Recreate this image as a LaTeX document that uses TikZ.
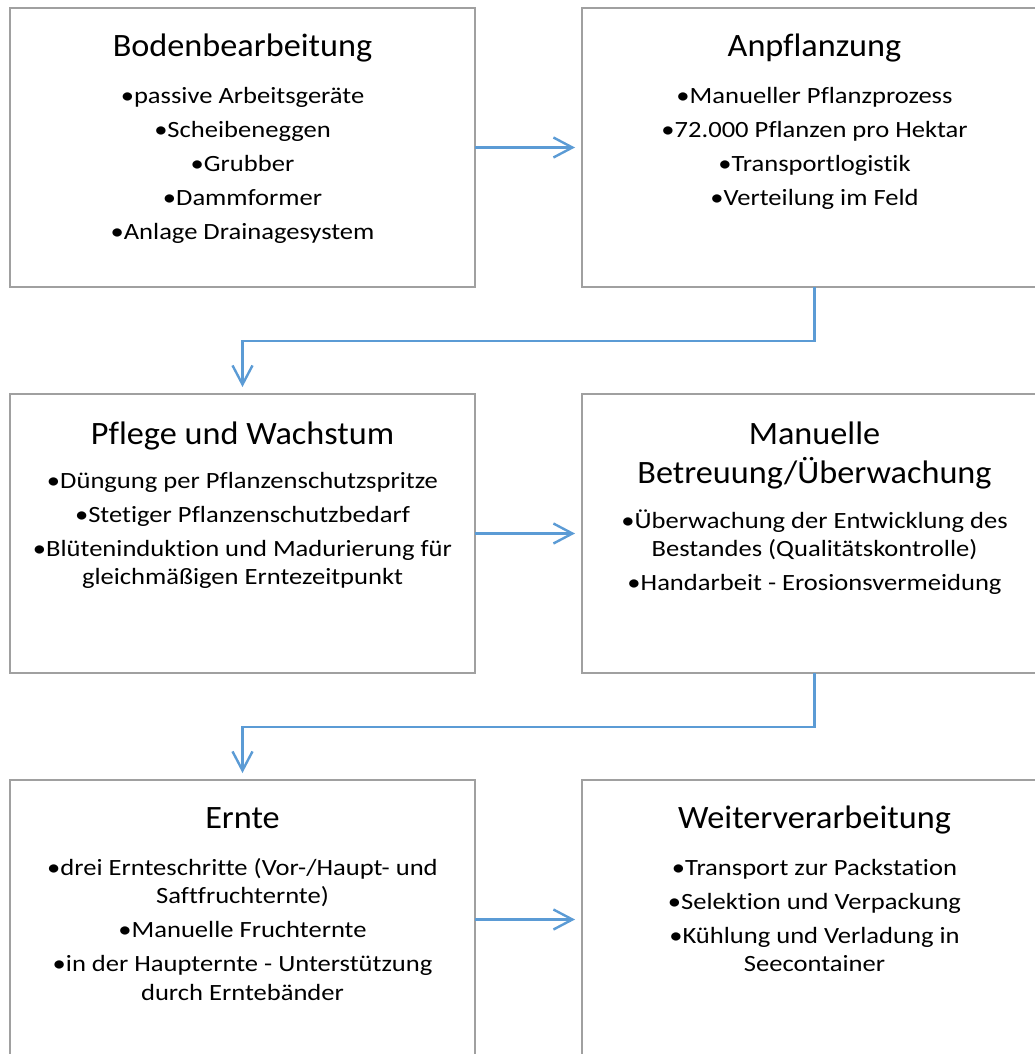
\documentclass[tikz,border=0pt]{standalone}
\usepackage{fontspec}
\setmainfont{Carlito}
\newfontfamily\bodyfnt[FakeStretch=1.14,Ligatures=NoCommon]{Carlito}
\newfontfamily\titlefnt[FakeStretch=1.05,Ligatures=NoCommon]{Carlito}
\usetikzlibrary{arrows.meta}
\definecolor{boxgray}{HTML}{A0A0A0}
\definecolor{arrblue}{HTML}{5B9BD5}
\newcommand\bodytext[1]{\parbox[t]{460pt}{\centering\bodyfnt\fontsize{23.3}{28.5}\selectfont\setlength\parskip{5.7pt}#1}}
\newcommand\titletext[1]{\parbox[t]{460pt}{\centering\titlefnt\fontsize{32.6}{39.8}\selectfont #1}}
\begin{document}
\begin{tikzpicture}[x=1pt,y=-1pt,
  box/.style={draw=boxgray, line width=1.5pt, minimum width=465pt, minimum height=279pt,
    anchor=north west, inner sep=0pt, outer sep=0pt},
  titlelbl/.style={anchor=base, inner sep=0pt, outer sep=0pt},
  bodylbl/.style={anchor=base, inner sep=0pt, outer sep=0pt},
  arr/.style={draw=arrblue, line width=2.4pt, -{Straight Barb[length=19pt,width=20pt]}}
]
\useasboundingbox (0,0) rectangle (1035,1054);
\clip (0,0) rectangle (1035,1054);

% boxes
\node[box] (b1) at (10,8) {};
\node[box] (b2) at (582,8) {};
\node[box] (b3) at (10,394) {};
\node[box] (b4) at (582,394) {};
\node[box] (b5) at (10,780) {};
\node[box] (b6) at (582,780) {};

% titles
\node[titlelbl] (t1) at ([yshift=-49pt]b1.north) {\titletext{Bodenbearbeitung}};
\node[titlelbl] (t2) at ([yshift=-49pt]b2.north) {\titletext{Anpflanzung}};
\node[titlelbl] (t3) at ([yshift=-50pt]b3.north) {\titletext{Pflege und Wachstum}};
\node[titlelbl] (t4) at ([yshift=-50pt]b4.north) {\titletext{Manuelle\\Betreuung/Überwachung}};
\node[titlelbl] (t5) at ([yshift=-48pt]b5.north) {\titletext{Ernte}};
\node[titlelbl] (t6) at ([yshift=-48pt]b6.north) {\titletext{Weiterverarbeitung}};

% bodies
\node[bodylbl] (l1) at ([yshift=-95pt]b1.north) {\bodytext{%
  •passive Arbeitsgeräte\par
  •Scheibeneggen\par
  •Grubber\par
  •Dammformer\par
  •Anlage Drainagesystem}};
\node[bodylbl] (l2) at ([yshift=-95pt]b2.north) {\bodytext{%
  •Manueller Pflanzprozess\par
  •72.000 Pflanzen pro Hektar\par
  •Transportlogistik\par
  •Verteilung im Feld}};
\node[bodylbl] (l3) at ([yshift=-94pt]b3.north) {\bodytext{%
  •Düngung per Pflanzenschutzspritze\par
  •Stetiger Pflanzenschutzbedarf\par
  •Blüteninduktion und Madurierung für\\gleichmäßigen Erntezeitpunkt}};
\node[bodylbl] (l4) at ([yshift=-134pt]b4.north) {\bodytext{%
  •Überwachung der Entwicklung des\\Bestandes (Qualitätskontrolle)\par
  •Handarbeit - Erosionsvermeidung}};
\node[bodylbl] (l5) at ([yshift=-95pt]b5.north) {\bodytext{%
  •drei Ernteschritte (Vor-/Haupt- und\\Saftfruchternte)\par
  •Manuelle Fruchternte\par
  •in der Haupternte - Unterstützung\\durch Erntebänder}};
\node[bodylbl] (l6) at ([yshift=-95pt]b6.north) {\bodytext{%
  •Transport zur Packstation\par
  •Selektion und Verpackung\par
  •Kühlung und Verladung in\\Seecontainer}};

% connectors
\draw[arr] (b1.east) -- ([xshift=-7pt]b2.west);
\draw[arr] (b3.east) -- ([xshift=-7pt]b4.west);
\draw[arr] (b5.east) -- ([xshift=-7pt]b6.west);
\draw[arr] (b2.south) -- ++(0,54) -| ([yshift=7pt]b3.north);
\draw[arr] (b4.south) -- ++(0,54) -| ([yshift=7pt]b5.north);
\end{tikzpicture}
\end{document}
